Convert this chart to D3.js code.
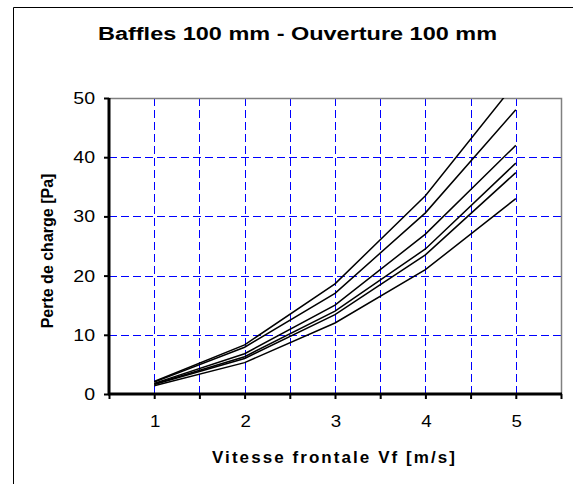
<!DOCTYPE html>
<html>
<head>
<meta charset="utf-8">
<script src="https://cdn.jsdelivr.net/npm/d3@7"></script>
<style>
  body { margin: 0; background: #fff; }
  svg { display: block; font-family: "Liberation Sans", Arial, sans-serif; }
</style>
</head>
<body>
<div id="chart"></div>
<script>
// DATA
const vitesse = [1, 2, 3, 4, 5];
const serieA = [2.1, 8.3, 18.6, 33.5, 52.6];
const serieB = [2.0, 7.9, 17.0, 30.6, 48.0];
const serieC = [1.8, 6.8, 15.0, 27.0, 42.0];
const serieD = [1.7, 6.3, 14.0, 24.5, 39.0];
const serieE = [1.6, 6.0, 13.4, 23.5, 37.4];
const serieF = [1.4, 5.3, 12.0, 21.0, 33.0];
const series = [serieA, serieB, serieC, serieD, serieE, serieF];
const xTicks = [0.5, 1, 1.5, 2, 2.5, 3, 3.5, 4, 4.5, 5, 5.5];
const xLabels = [1, 2, 3, 4, 5];
const yTicks = [0, 10, 20, 30, 40, 50];

let width = 573, height = 484,
    svg = d3.select("#chart").append("svg")
        .attr("width", width)
        .attr("height", height)

// outer frame (left + top only visible)
svg.append("path")
    .attr("d", "M13.5,484 L13.5,7.5 L573,7.5")
    .attr("fill", "none")
    .attr("stroke", "#000")
    .attr("stroke-width", 1)

let plot = {left: 109, right: 561, top: 98, bottom: 394}

let x = d3.scaleLinear().domain([0.5, 5.5]).range([plot.left, plot.right])
let y = d3.scaleLinear().domain([0, 50]).range([plot.bottom, plot.top])

svg.append("defs").append("clipPath").attr("id", "clip")
    .append("rect")
    .attr("x", plot.left).attr("y", plot.top)
    .attr("width", plot.right - plot.left).attr("height", plot.bottom - plot.top)

//GRID
let grid = svg.append("g").attr("class", "grid")
grid.selectAll("line.v")
    .data(xTicks.filter(t => t > 0.5 && t < 5.5))
    .enter().append("line")
    .attr("class", "v")
    .attr("x1", d => Math.round(x(d)) + 0.5).attr("x2", d => Math.round(x(d)) + 0.5)
    .attr("y1", plot.top).attr("y2", plot.bottom)
    .attr("stroke", "#0000ff")
    .attr("stroke-dasharray", "8,4")
grid.selectAll("line.h")
    .data(yTicks.filter(t => t > 0 && t < 50))
    .enter().append("line")
    .attr("class", "h")
    .attr("y1", d => Math.round(y(d)) + 0.5).attr("y2", d => Math.round(y(d)) + 0.5)
    .attr("x1", plot.left).attr("x2", plot.right)
    .attr("stroke", "#0000ff")
    .attr("stroke-dasharray", "8,4")

// gray plot border top/right
svg.append("path")
    .attr("d", `M${plot.left},${plot.top + 0.5} L${plot.right + 0.5},${plot.top + 0.5} L${plot.right + 0.5},${plot.bottom}`)
    .attr("fill", "none")
    .attr("stroke", "#808080")
    .attr("stroke-width", 1.5)

//LINES
let line = d3.line()
    .x((d, i) => x(vitesse[i]))
    .y(d => y(d))
svg.append("g")
    .attr("clip-path", "url(#clip)")
    .selectAll("path")
    .data(series)
    .enter().append("path")
    .attr("d", line)
    .attr("fill", "none")
    .attr("stroke", "#000")
    .attr("stroke-width", 1.5)

//AXES
let xAxis = svg.append("g")
    .attr("transform", `translate(0,${plot.bottom})`)
    .call(d3.axisBottom(x).tickValues(xTicks).tickSize(5).tickFormat(""))
let yAxis = svg.append("g")
    .attr("transform", `translate(${plot.left},0)`)
    .call(d3.axisLeft(y).tickValues(yTicks).tickSize(5).tickFormat(""))
;[xAxis, yAxis].forEach(a => {
    a.select(".domain").attr("stroke", "#000").attr("stroke-width", 3)
    a.selectAll(".tick line").attr("stroke", "#000").attr("stroke-width", 2)
})
xAxis.select(".domain").attr("d", `M${plot.left - 1},0H${plot.right + 1}`)
yAxis.select(".domain").attr("d", `M0,${plot.bottom + 1}V${plot.top}`)

// tick labels (slightly wide glyphs like the original)
svg.append("g").selectAll("text")
    .data(xLabels)
    .enter().append("text")
    .attr("transform", d => `translate(${x(d) + 1},427) scale(1.1,1)`)
    .attr("text-anchor", "middle")
    .attr("font-size", 17)
    .text(d => d)
svg.append("g").selectAll("text")
    .data(yTicks)
    .enter().append("text")
    .attr("transform", d => `translate(95,${y(d) + 6}) scale(1.15,1)`)
    .attr("text-anchor", "end")
    .attr("font-size", 17)
    .text(d => d)

//TITLES
svg.append("text")
    .attr("x", 98)
    .attr("y", 40)
    .attr("font-size", 18)
    .attr("font-weight", "bold")
    .attr("textLength", 399)
    .attr("lengthAdjust", "spacingAndGlyphs")
    .text("Baffles 100 mm - Ouverture 100 mm")
svg.append("text")
    .attr("x", 212)
    .attr("y", 463)
    .attr("font-size", 17)
    .attr("font-weight", "bold")
    .attr("textLength", 243)
    .attr("lengthAdjust", "spacing")
    .text("Vitesse frontale Vf [m/s]")
svg.append("text")
    .attr("transform", "translate(53,251) rotate(-90)")
    .attr("text-anchor", "middle")
    .attr("font-size", 16)
    .attr("font-weight", "bold")
    .text("Perte de charge [Pa]")
</script>
</body>
</html>
